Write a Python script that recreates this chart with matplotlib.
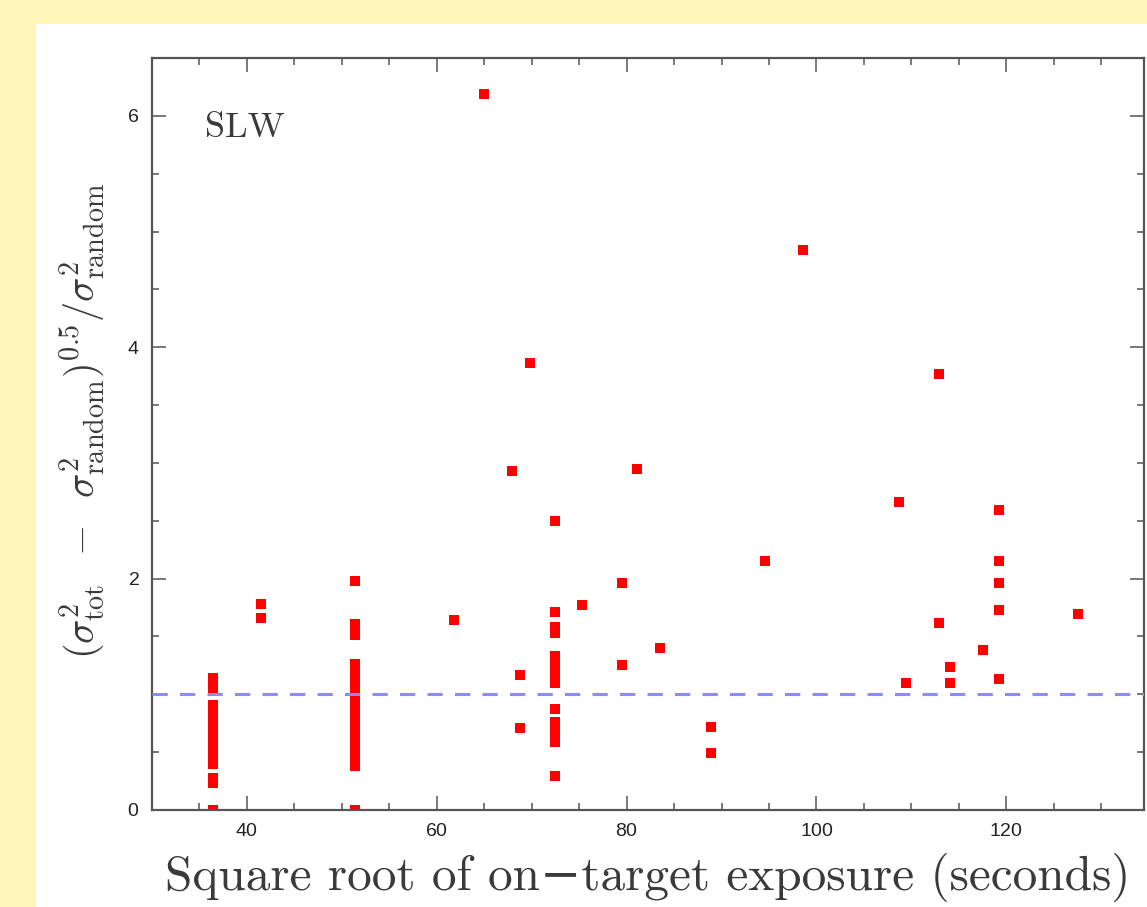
import matplotlib
matplotlib.use("Agg")
import matplotlib.pyplot as plt
from matplotlib.patches import Rectangle
from matplotlib.ticker import MultipleLocator
import numpy as np

plt.rcParams['mathtext.fontset'] = 'cm'
plt.rcParams['axes.formatter.use_mathtext'] = True

# Daten
col1_x = 36.4
col1_y = [1.14, 1.10, 1.06, 1.03, 0.91, 0.87, 0.83, 0.79, 0.76, 0.72, 0.69,
          0.65, 0.61, 0.58, 0.54, 0.50, 0.46, 0.42, 0.40, 0.28, 0.23, 0.0]
col2_x = 51.4
col2_y = [1.98, 1.61, 1.56, 1.51, 1.26, 1.22, 1.18, 1.14, 1.10, 1.06, 1.02,
          0.98, 0.94, 0.90, 0.86, 0.82, 0.78, 0.74, 0.70, 0.66, 0.62, 0.58,
          0.54, 0.50, 0.46, 0.42, 0.38, 0.0]
col3_x = 72.5
col3_y = [2.50, 1.71, 1.58, 1.53, 1.33, 1.28, 1.23, 1.18, 1.095, 0.87, 0.76,
          0.71, 0.67, 0.63, 0.59, 0.29]
col4_x = 119.2
col4_y = [2.59, 2.155, 1.96, 1.73, 1.13]
other_x = [41.5, 41.5, 61.8, 65.0, 67.9, 68.8, 68.8, 69.8, 75.3, 79.5, 79.5,
           81.1, 83.5, 88.9, 88.9, 94.6, 98.6, 108.7, 109.4, 112.9, 112.9,
           114.1, 114.1, 117.5, 127.6]
other_y = [1.78, 1.66, 1.64, 6.19, 2.93, 1.17, 0.71, 3.86, 1.77, 1.96, 1.25,
           2.95, 1.40, 0.715, 0.49, 2.155, 4.84, 2.66, 1.095, 3.77, 1.62,
           1.24, 1.095, 1.385, 1.69]
ref_level = 1.0

xs = np.concatenate([[col1_x] * len(col1_y), [col2_x] * len(col2_y),
                     [col3_x] * len(col3_y), [col4_x] * len(col4_y), other_x])
ys = np.concatenate([col1_y, col2_y, col3_y, col4_y, other_y])

W, H = 1147, 907
fig = plt.figure(figsize=(W / 100, H / 100), dpi=100, facecolor='#fff6bb')
# weisses Feld hinter allem
fig.patches.append(Rectangle((36 / W, 0), 1, 1 - 24 / H, transform=fig.transFigure,
                             facecolor='white', edgecolor='none', zorder=-10))

ax = fig.add_axes([152 / W, 1 - 810 / H, (1144 - 152) / W, (810 - 58) / H])
ax.set_facecolor('white')

ax.plot(xs, ys, linestyle='none', marker='s', markersize=7.6, color='red',
        markeredgewidth=0, zorder=2)
ax.axhline(ref_level, color='#8c8cf5', linewidth=2.2, linestyle=(0, (5, 4)), zorder=3)

ax.set_xlim(30, 134.5)
ax.set_ylim(0, 6.5)
ax.xaxis.set_major_locator(MultipleLocator(20))
ax.xaxis.set_minor_locator(MultipleLocator(5))
ax.yaxis.set_major_locator(MultipleLocator(2))
ax.yaxis.set_minor_locator(MultipleLocator(0.5))

for s in ax.spines.values():
    s.set_color('#555555')
    s.set_linewidth(1.6)
ax.tick_params(which='both', direction='in', top=True, right=True, color='#555555',
               labelcolor='#222222', labelsize=14)
ax.tick_params(which='major', length=10, width=1.1, pad=9)
ax.tick_params(which='minor', length=5, width=1.1)
for lab in ax.get_xticklabels() + ax.get_yticklabels():
    lab.set_family('Liberation Sans')

ax.text(0.053, 0.907, 'SLW', transform=ax.transAxes, family='cmr10', fontsize=26,
        color='#3a3a3a', va='center', ha='left')

fig.text(648 / W, 1 - 890 / H, 'Square root of on\u2212target exposure (seconds)',
         family=['cmr10', 'DejaVu Serif'], fontsize=35.5, color='#3a3a3a',
         ha='center', va='baseline')
fig.text(82 / W, 1 - 421 / H,
         r'$(\sigma^2_{\rm tot}\;\;-\;\;\sigma^2_{\rm random})^{0.5}/\sigma^2_{\rm random}$',
         fontsize=29, color='#3a3a3a', rotation=90, ha='center', va='center')

fig.savefig('out.png', dpi=100, facecolor=fig.get_facecolor())
